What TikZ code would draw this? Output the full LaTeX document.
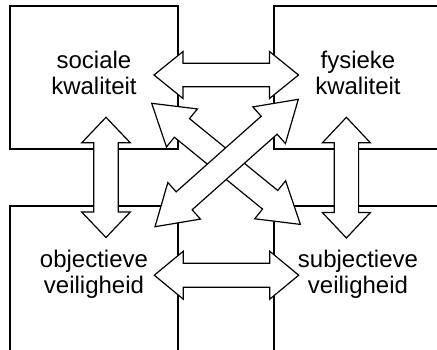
\documentclass[tikz,border=0pt]{standalone}
\usepackage{fontspec}
\setmainfont{Liberation Sans}
\newcommand\dblarrow[8]{% name, Ax, Ay, Bx, By, head length, head half width, shaft half width
  \pgfmathsetmacro\arAx{#2}\pgfmathsetmacro\arAy{#3}%
  \pgfmathsetmacro\arBx{#4}\pgfmathsetmacro\arBy{#5}%
  \pgfmathsetmacro\arL{veclen(\arBx-\arAx,\arBy-\arAy)}%
  \pgfmathsetmacro\arUx{(\arBx-\arAx)/\arL}%
  \pgfmathsetmacro\arUy{(\arBy-\arAy)/\arL}%
  \pgfmathsetmacro\arVx{0-\arUy}%
  \pgfmathsetmacro\arVy{\arUx}%
  \coordinate (#1-a) at (\arAx,\arAy);
  \coordinate (#1-b) at (\arBx,\arBy);
  \draw[arrowshape] (#1-a)
    -- ({\arAx+#6*\arUx+#7*\arVx},{\arAy+#6*\arUy+#7*\arVy})
    -- ({\arAx+#6*\arUx+#8*\arVx},{\arAy+#6*\arUy+#8*\arVy})
    -- ({\arBx-#6*\arUx+#8*\arVx},{\arBy-#6*\arUy+#8*\arVy})
    -- ({\arBx-#6*\arUx+#7*\arVx},{\arBy-#6*\arUy+#7*\arVy})
    -- (#1-b)
    -- ({\arBx-#6*\arUx-#7*\arVx},{\arBy-#6*\arUy-#7*\arVy})
    -- ({\arBx-#6*\arUx-#8*\arVx},{\arBy-#6*\arUy-#8*\arVy})
    -- ({\arAx+#6*\arUx-#8*\arVx},{\arAy+#6*\arUy-#8*\arVy})
    -- ({\arAx+#6*\arUx-#7*\arVx},{\arAy+#6*\arUy-#7*\arVy})
    -- cycle;
}
\tikzset{
  box/.style={draw=black, line width=1.2pt, fill=white, rectangle, inner sep=0pt, outer sep=0pt, anchor=north west},
  label/.style={align=center, inner sep=0pt, anchor=base, font=\fontsize{24}{26}\selectfont},
  arrowshape/.style={draw=black, fill=white, line width=1.2pt, line join=miter}
}
\begin{document}
\begin{tikzpicture}[x=1pt, y=-1pt]
\useasboundingbox (0,0) rectangle (437,349);
\clip (0,0) rectangle (437,349);
% boxes
\node[box, minimum width=168pt, minimum height=143pt] (tl) at (10,6) {};
\node[box, minimum width=168pt, minimum height=143pt] (tr) at (274,6) {};
\node[box, minimum width=168pt, minimum height=160pt] (bl) at (10,206) {};
\node[box, minimum width=168pt, minimum height=160pt] (br) at (274,206) {};
% labels (base anchor = baseline of the last line)
\node[label] (tlt) at (94,94) {sociale\\kwaliteit};
\node[label] (trt) at (358,94) {fysieke\\kwaliteit};
\node[label] (blt) at (94,293) {objectieve\\veiligheid};
\node[label] (brt) at (358,293) {subjectieve\\veiligheid};
% arrows
\dblarrow{top}{154}{75}{298.5}{75}{29}{23.5}{11.7}
\dblarrow{bot}{154.3}{275.2}{298.7}{275.2}{29}{24}{12}
\dblarrow{lft}{106}{117.3}{106}{237.5}{25.5}{24.3}{12.3}
\dblarrow{rgt}{346.4}{117.3}{346.4}{238}{25.5}{24}{12.2}
\dblarrow{dgA}{151.7}{103.3}{300.4}{224.4}{39}{24.5}{12}
\dblarrow{dgB}{155}{226.7}{298.3}{99.3}{39}{24.5}{12}
\end{tikzpicture}
\end{document}
